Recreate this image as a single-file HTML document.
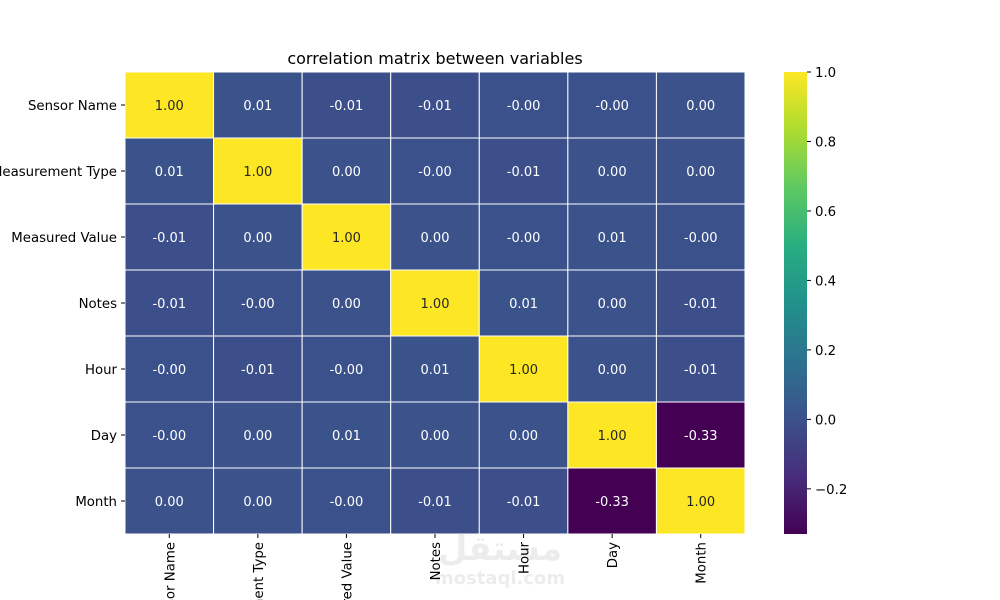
<!DOCTYPE html>
<html><head><meta charset="utf-8"><style>
body{margin:0;background:#fff;width:1000px;height:600px;overflow:hidden;font-family:"DejaVu Sans","Liberation Sans",sans-serif}
svg{display:block;overflow:hidden}
</style></head><body>
<svg id="chart" width="1000" height="600" xmlns="http://www.w3.org/2000/svg" font-family="DejaVu Sans, Liberation Sans, sans-serif">
<defs><linearGradient id="vir" x1="0" y1="1" x2="0" y2="0">
<stop offset="0" stop-color="#440154"/><stop offset="0.125" stop-color="#472d7b"/><stop offset="0.25" stop-color="#3b528b"/><stop offset="0.375" stop-color="#2c728e"/><stop offset="0.5" stop-color="#21918c"/><stop offset="0.625" stop-color="#28ae80"/><stop offset="0.75" stop-color="#5ec962"/><stop offset="0.875" stop-color="#addc30"/><stop offset="1" stop-color="#fde725"/>
</linearGradient></defs>
<text x="435" y="64" text-anchor="middle" font-size="16" fill="#000">correlation matrix between variables</text>
<g id="cells"></g><g id="labels"></g>
<rect x="784" y="72" width="23" height="462" fill="url(#vir)"/>
<g id="cbticks"></g>
<text x="500" y="560" text-anchor="middle" font-size="34" font-weight="bold" fill="#000" opacity="0.07">مستقل</text>
<text x="500" y="584" text-anchor="middle" font-size="18" font-weight="bold" fill="#000" opacity="0.07">mostaql.com</text>
</svg>
<script>
const categories=["Sensor Name","Measurement Type","Measured Value","Notes","Hour","Day","Month"];
const values=[
[1.00,0.01,-0.01,-0.01,-0.001,-0.001,0.001],
[0.01,1.00,0.001,-0.001,-0.01,0.001,0.001],
[-0.01,0.001,1.00,0.001,-0.001,0.01,-0.001],
[-0.01,-0.001,0.001,1.00,0.01,0.001,-0.01],
[-0.001,-0.01,-0.001,0.01,1.00,0.001,-0.01],
[-0.001,0.001,0.01,0.001,0.001,1.00,-0.33],
[0.001,0.001,-0.001,-0.01,-0.01,-0.33,1.00]];
const cbTicks=[1.0,0.8,0.6,0.4,0.2,0.0,-0.2];
const vmin=-0.33,vmax=1.0;
const X0=125,X1=745,Y0=72,Y1=534;
const NS="http://www.w3.org/2000/svg";
const n=categories.length,cw=(X1-X0)/n,ch=(Y1-Y0)/n;
const vstops=["#440154","#472d7b","#3b528b","#2c728e","#21918c","#28ae80","#5ec962","#addc30","#fde725"];
function hex(h){return [1,3,5].map(i=>parseInt(h.substr(i,2),16));}
function color(v){let t=Math.max(0,Math.min(1,(v-vmin)/(vmax-vmin)))*(vstops.length-1);let i=Math.min(Math.floor(t),vstops.length-2),f=t-i;const a=hex(vstops[i]),b=hex(vstops[i+1]);return "rgb("+a.map((c,k)=>Math.round(c+(b[k]-c)*f)).join(",")+")";}
function fmt(v){return (v<0?'-':'')+Math.abs(v).toFixed(2);}
function xs(j){return X0+j*cw;}function ys(i){return Y0+i*ch;}
function cby(v){return Y0+(vmax-v)/(vmax-vmin)*(Y1-Y0);}
const cells=document.getElementById('cells'),labels=document.getElementById('labels'),cbt=document.getElementById('cbticks');
function mk(tag,attrs,p){const e=document.createElementNS(NS,tag);for(const k in attrs)e.setAttribute(k,attrs[k]);p.appendChild(e);return e;}
values.forEach((row,i)=>row.forEach((v,j)=>{
 const r=mk('rect',{x:xs(j),y:ys(i),width:cw,height:ch,fill:color(v),stroke:'#fff','stroke-width':1},cells);
 
 
 const t=mk('text',{x:xs(j)+cw/2,y:ys(i)+ch/2+5,'text-anchor':'middle','font-size':13,fill:v>0.5?'#262626':'#fff'},cells);
 t.textContent=fmt(v);
 
 
}));
categories.forEach((c,i)=>{
 const t=mk('text',{x:X0-8,y:ys(i)+ch/2+5,'text-anchor':'end','font-size':13.3,fill:'#000'},labels);t.textContent=c;
 
 
 mk('line',{x1:X0-4,x2:X0,y1:ys(i)+ch/2,y2:ys(i)+ch/2,stroke:'#000'},labels);
 const cx=xs(i)+cw/2;
 mk('line',{x1:cx,x2:cx,y1:Y1,y2:Y1+4,stroke:'#000'},labels);
 const u=mk('text',{x:cx+5,y:Y1+8,'text-anchor':'end','font-size':13.3,fill:'#000',transform:'rotate(-90 '+(cx+5)+' '+(Y1+8)+')'},labels);u.textContent=c;
 
 
});
cbTicks.forEach(v=>{const y=cby(v);
 mk('line',{x1:807,x2:811,y1:y,y2:y,stroke:'#000'},cbt);
 const t=mk('text',{x:815,y:y+5,'font-size':13.3,fill:'#000'},cbt);t.textContent=(v<0?'\u2212':'')+Math.abs(v).toFixed(1);
 
 
});
</script>
</body></html>
